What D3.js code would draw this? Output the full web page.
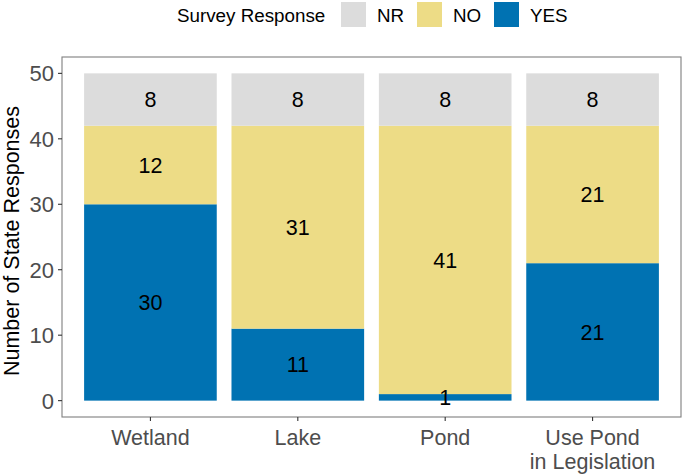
<!DOCTYPE html>
<html>
<head>
<meta charset="utf-8">
<script src="https://cdn.jsdelivr.net/npm/d3@7"></script>
<style>
  body { margin: 0; background: #fff; }
  svg text { font-family: "Liberation Sans", Arial, sans-serif; }
</style>
</head>
<body>
<div id="chart"></div>
<script>
// categories + values (stack order bottom -> top: YES, NO, NR)
const categories = ["Wetland", "Lake", "Pond", "Use Pond\nin Legislation"];
const yesValues = [30, 11, 1, 21];
const noValues = [12, 31, 41, 21];
const nrValues = [8, 8, 8, 8];
const responses = ["YES", "NO", "NR"];
const legendOrder = ["NR", "NO", "YES"];
const yTicks = [0, 10, 20, 30, 40, 50];

const colors = { NR: "#DCDCDC", NO: "#EDDC86", YES: "#0072B2" };

const width = 685, height = 474;
const panel = { left: 62, right: 681, top: 57, bottom: 417 };

const svg = d3.select("#chart").append("svg")
    .attr("width", width)
    .attr("height", height);

// build rows for stacking
const rows = categories.map((c, i) => ({ cat: c, YES: yesValues[i], NO: noValues[i], NR: nrValues[i] }));
const series = d3.stack().keys(responses)(rows);

const x = d3.scaleBand()
    .domain(categories)
    .range([panel.left, panel.right])
    .paddingInner(0.1)
    .paddingOuter(0.15);

const y = d3.scaleLinear()
    .domain([-2.5, 52.5])
    .range([panel.bottom, panel.top]);

// bars
const layer = svg.append("g").selectAll("g")
    .data(series)
    .enter().append("g")
    .attr("fill", d => colors[d.key]);

layer.selectAll("rect")
    .data(d => d)
    .enter().append("rect")
    .attr("x", d => x(d.data.cat))
    .attr("width", x.bandwidth())
    .attr("y", d => y(d[1]))
    .attr("height", d => y(d[0]) - y(d[1]));

// value labels centred in each segment
series.forEach(s => {
    svg.append("g").selectAll("text")
        .data(s)
        .enter().append("text")
        .attr("x", d => x(d.data.cat) + x.bandwidth() / 2)
        .attr("y", d => y((d[0] + d[1]) / 2))
        .attr("dy", "0.36em")
        .attr("text-anchor", "middle")
        .attr("font-size", 21.5)
        .attr("fill", "#000")
        .text(d => d[1] - d[0]);
});

// panel border
svg.append("rect")
    .attr("x", panel.left)
    .attr("y", panel.top)
    .attr("width", panel.right - panel.left)
    .attr("height", panel.bottom - panel.top)
    .attr("fill", "none")
    .attr("stroke", "#7f7f7f")
    .attr("stroke-width", 1.1);

// y axis
const yAxis = svg.append("g");
yAxis.selectAll("line")
    .data(yTicks)
    .enter().append("line")
    .attr("x1", panel.left - 4).attr("x2", panel.left)
    .attr("y1", d => y(d)).attr("y2", d => y(d))
    .attr("stroke", "#333").attr("stroke-width", 1.1);
yAxis.selectAll("text")
    .data(yTicks)
    .enter().append("text")
    .attr("x", panel.left - 8)
    .attr("y", d => y(d))
    .attr("dy", "0.36em")
    .attr("text-anchor", "end")
    .attr("font-size", 22)
    .attr("fill", "#4d4d4d")
    .text(d => d);

// x axis
const xAxis = svg.append("g");
xAxis.selectAll("line")
    .data(categories)
    .enter().append("line")
    .attr("x1", d => x(d) + x.bandwidth() / 2).attr("x2", d => x(d) + x.bandwidth() / 2)
    .attr("y1", panel.bottom).attr("y2", panel.bottom + 4)
    .attr("stroke", "#333").attr("stroke-width", 1.1);
// multi-line labels are separate text elements, one per line
categories.forEach(d => {
    d.split("\n").forEach((l, i) => {
        xAxis.append("text")
            .attr("x", x(d) + x.bandwidth() / 2)
            .attr("y", panel.bottom + 28 + i * 24)
            .attr("text-anchor", "middle")
            .attr("font-size", 21.5)
            .attr("fill", "#4d4d4d")
            .text(l);
    });
});

// y title
svg.append("text")
    .attr("transform", `translate(19,${(panel.top + panel.bottom) / 2 + 4}) rotate(-90)`)
    .attr("text-anchor", "middle")
    .attr("font-size", 21.5)
    .attr("fill", "#000")
    .text("Number of State Responses");

// legend
const legend = svg.append("g");
legend.append("text")
    .attr("x", 177).attr("y", 15)
    .attr("dy", "0.36em")
    .attr("font-size", 18.8)
    .text("Survey Response");
const keyX = [341, 417, 494];
legendOrder.forEach((k, i) => {
    legend.append("rect")
        .attr("x", keyX[i]).attr("y", 2)
        .attr("width", 25).attr("height", 25)
        .attr("fill", colors[k]);
    legend.append("text")
        .attr("x", keyX[i] + 36).attr("y", 15)
        .attr("dy", "0.36em")
        .attr("font-size", 18.8)
        .text(k);
});
</script>
</body>
</html>
